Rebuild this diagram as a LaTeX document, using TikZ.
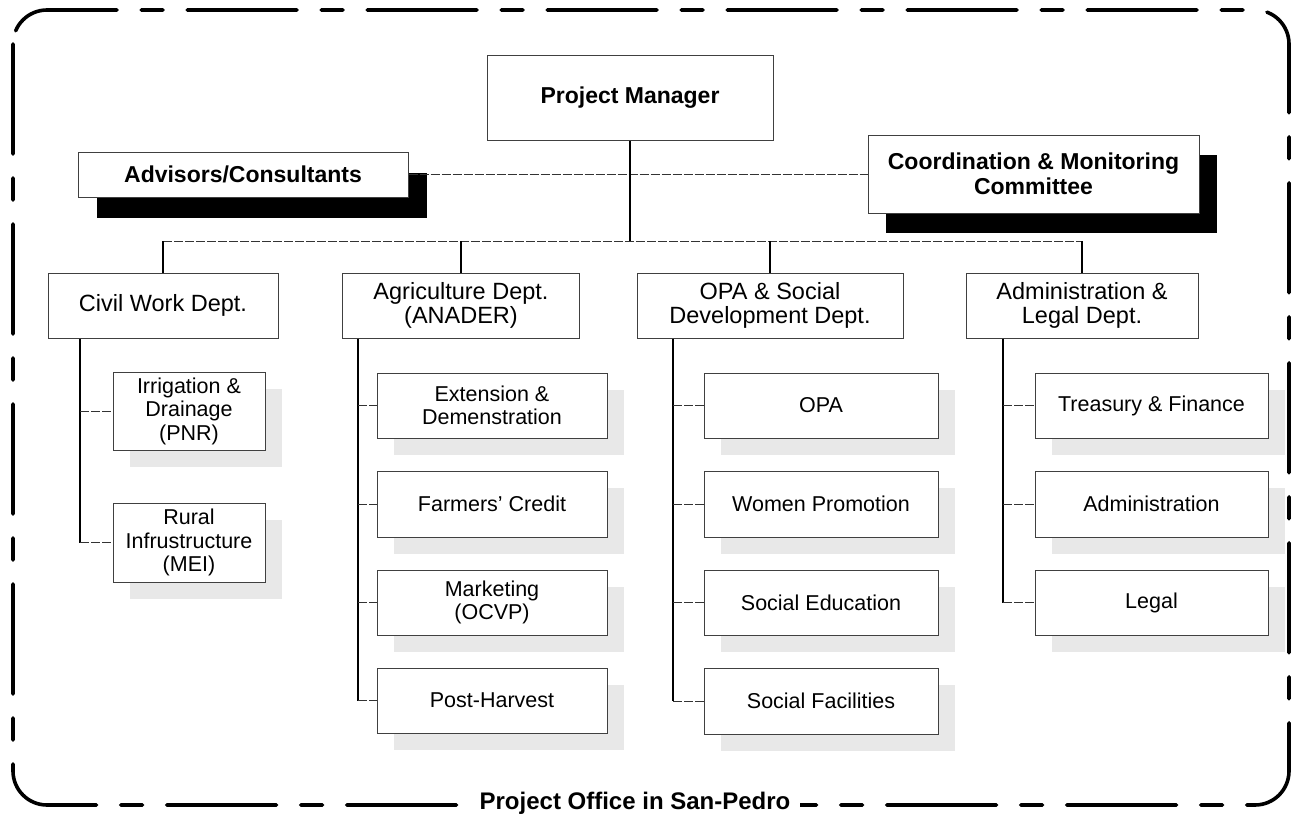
\documentclass[tikz,border=0pt]{standalone}
\usepackage{fontspec}
\setmainfont{Liberation Sans}
\usetikzlibrary{shadows}

\begin{document}
\begin{tikzpicture}[x=1pt, y=-1pt,
  box/.style={draw=black!75, line width=1pt, fill=white, align=center, inner sep=2pt},
  topbox/.style={box, font=\bfseries\fontsize{23}{25}\selectfont},
  darkshadow/.style={drop shadow={shadow xshift=19pt, shadow yshift=-21pt, fill=black, opacity=1}},
  deptbox/.style={box, font=\fontsize{23.5}{24}\selectfont, minimum height=65},
  unitbox/.style={box, font=\fontsize{21.5}{23.5}\selectfont,
    drop shadow={shadow xshift=17pt, shadow yshift=-17pt, fill=black!9, opacity=1}},
  trunk/.style={line width=1.6pt, black},
  branch/.style={line width=0.9pt, black!80, dash pattern=on 9pt off 2pt},
  frame/.style={line width=3.6pt, black, line cap=round,
    dash pattern=on 110pt off 24pt on 22pt off 24pt}
]
\useasboundingbox (0,0) rectangle (1299,827);

% outer office frame
\draw[frame, rounded corners=34] (13,10) rectangle (1289,805);
\node[fill=white, inner xsep=10pt, inner ysep=4pt,
      font=\bfseries\fontsize{24}{27}\selectfont] (office) at (635,803) {Project Office in San-Pedro};

% top level
\node[topbox, minimum width=286, minimum height=85] (pm) at (630,97.5) {Project Manager};
\node[topbox, darkshadow, minimum width=330, minimum height=45] (adv) at (243,174.5) {Advisors/Consultants};
\node[topbox, minimum width=331, minimum height=78,
      drop shadow={shadow xshift=18pt, shadow yshift=-20pt, fill=black, opacity=1}]
      (cmc) at (1033.5,174) {Coordination \& Monitoring\\Committee};

% departments
\node[deptbox, minimum width=230] (civil) at (163,305.5) {Civil Work Dept.};
\node[deptbox, minimum width=237] (agri)  at (461,305.5) {Agriculture Dept.\\(ANADER)};
\node[deptbox, minimum width=266] (opa)   at (770,305.5) {OPA \& Social\\Development Dept.};
\node[deptbox, minimum width=232] (admin) at (1082,305.5) {Administration \&\\Legal Dept.};

% units of the civil work department
\node[unitbox, minimum width=152, minimum height=78] (irr)   at (189,411) {Irrigation \&\\Drainage\\(PNR)};
\node[unitbox, minimum width=152, minimum height=79] (rural) at (189,542.5) {Rural\\Infrustructure\\(MEI)};

% units of the agriculture department
\node[unitbox, minimum width=230, minimum height=65] (ext)  at (492,405.5) {Extension \&\\Demenstration};
\node[unitbox, minimum width=230, minimum height=66] (cred) at (492,504)   {Farmers' Credit};
\node[unitbox, minimum width=230, minimum height=65] (mkt)  at (492,602.5) {Marketing\\(OCVP)};
\node[unitbox, minimum width=230, minimum height=65] (post) at (492,700.5) {Post-Harvest};

% units of the OPA & social development department
\node[unitbox, minimum width=234, minimum height=65] (opau) at (821,405.5) {OPA};
\node[unitbox, minimum width=234, minimum height=66] (wom)  at (821,504)   {Women Promotion};
\node[unitbox, minimum width=234, minimum height=65] (sedu) at (821,602.5) {Social Education};
\node[unitbox, minimum width=234, minimum height=66] (sfac) at (821,701)   {Social Facilities};

% units of the administration & legal department
\node[unitbox, minimum width=233, minimum height=65] (tre)  at (1151.5,405.5) {Treasury \& Finance};
\node[unitbox, minimum width=233, minimum height=66] (adm)  at (1151.5,504)   {Administration};
\node[unitbox, minimum width=233, minimum height=65] (leg)  at (1151.5,602.5) {Legal};

% main hierarchy
\coordinate (bus) at (630,241);
\draw[branch] (adv.east) -- (adv.east -| cmc.west);
\draw[trunk] (pm) -- (pm |- bus);
\draw[branch] (civil |- bus) -- (admin |- bus);
\foreach \d in {civil,agri,opa,admin}
  \draw[trunk] (\d |- bus) -- (\d);

% department spines
\coordinate (cvx) at (80,0);
\coordinate (agx) at (358,0);
\coordinate (opx) at (673,0);
\coordinate (adx) at (1003,0);
\draw[trunk] (civil.south -| cvx) -- (rural.west -| cvx);
\draw[trunk] (agri.south -| agx) -- (post.west -| agx);
\draw[trunk] (opa.south -| opx) -- (sfac.west -| opx);
\draw[trunk] (admin.south -| adx) -- (leg.west -| adx);

% branches to the units
\foreach \u in {irr,rural} \draw[branch] (\u.west -| cvx) -- (\u.west);
\foreach \u in {ext,cred,mkt,post} \draw[branch] (\u.west -| agx) -- (\u.west);
\foreach \u in {opau,wom,sedu,sfac} \draw[branch] (\u.west -| opx) -- (\u.west);
\foreach \u in {tre,adm,leg} \draw[branch] (\u.west -| adx) -- (\u.west);
\end{tikzpicture}
\end{document}
